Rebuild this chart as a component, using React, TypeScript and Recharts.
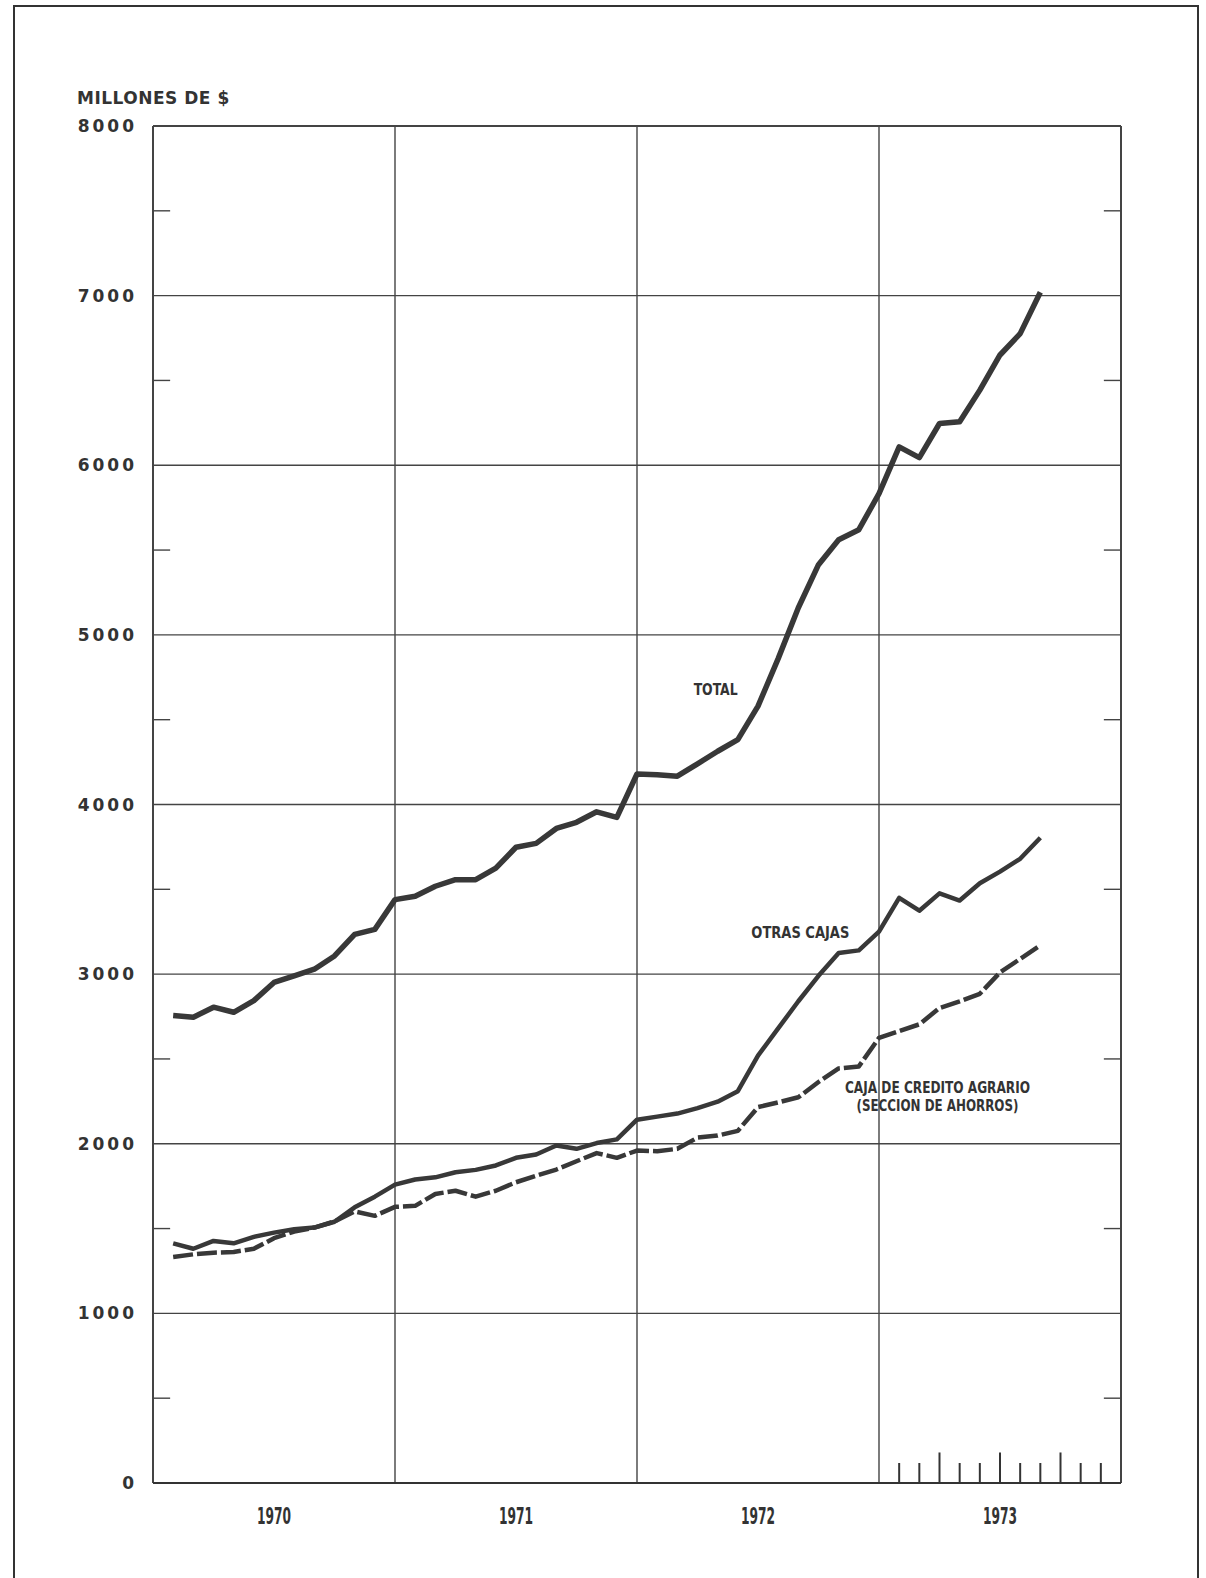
import React from 'react';
import { ComposedChart, Line, XAxis, YAxis, CartesianGrid, ReferenceLine, ReferenceDot } from 'recharts';

// month index (end of month), Jan 1970 = 1 ... Aug 1973 = 44
const months = [
  1, 2, 3, 4, 5, 6, 7, 8, 9, 10, 11, 12,
  13, 14, 15, 16, 17, 18, 19, 20, 21, 22, 23, 24,
  25, 26, 27, 28, 29, 30, 31, 32, 33, 34, 35, 36,
  37, 38, 39, 40, 41, 42, 43, 44,
];

const total = [
  2756, 2746, 2805, 2775, 2844, 2951, 2990, 3029, 3107, 3234, 3264, 3439,
  3459, 3518, 3557, 3557, 3625, 3748, 3771, 3859, 3895, 3957, 3924, 4180,
  4176, 4167, 4240, 4314, 4382, 4580, 4860, 5160, 5414, 5561, 5620, 5833,
  6108, 6045, 6246, 6256, 6443, 6650, 6776, 7020,
];

const otrasCajas = [
  1413, 1381, 1427, 1413, 1451, 1476, 1496, 1506, 1540, 1625, 1688, 1759,
  1789, 1802, 1832, 1846, 1872, 1917, 1937, 1990, 1970, 2004, 2026, 2142,
  2160, 2178, 2210, 2248, 2310, 2520, 2680, 2840, 2990, 3124, 3140, 3250,
  3450, 3374, 3476, 3434, 3536, 3604, 3680, 3804,
];

const cajaAgraria = [
  1332, 1348, 1358, 1362, 1381, 1443, 1482, 1506, 1542, 1601, 1575, 1628,
  1634, 1704, 1723, 1688, 1723, 1773, 1812, 1848, 1897, 1945, 1917, 1960,
  1956, 1970, 2036, 2048, 2076, 2216, 2244, 2274, 2364, 2444, 2456, 2624,
  2664, 2704, 2800, 2840, 2884, 3010, 3090, 3170,
];

const yearTicks = [6, 18, 30, 42];
const yearLabels = ['1970', '1971', '1972', '1973'];
const yearBounds = [0, 12, 24, 36, 48];
const valueTicks = [0, 1000, 2000, 3000, 4000, 5000, 6000, 7000, 8000];
const halfTicks = [500, 1500, 2500, 3500, 4500, 5500, 6500, 7500];
const months1973 = [37, 38, 39, 40, 41, 42, 43, 44, 45, 46, 47];
const quarters1973 = [39, 42, 45];

const data = months.map((m, i) => ({
  m,
  total: total[i],
  otras: otrasCajas[i],
  caja: cajaAgraria[i],
}));

const INK = '#333';
const GRID = '#444';
const NARROW = "'Liberation Sans Narrow', 'DejaVu Sans Condensed', 'Arial Narrow', sans-serif";
const WIDE = "'DejaVu Sans', Verdana, sans-serif";
const X_MIN = 0;
const X_MAX = 48;
const HALF_TICK_LEN = 0.85; // in months

function ValueTick({ x, y, payload }: any) {
  return (
    <text x={x} y={y} textAnchor="end" dominantBaseline="central" fontFamily={WIDE}
      fontSize={17} fontWeight="bold" letterSpacing={3} fill={INK}>
      {payload.value}
    </text>
  );
}

function YearTick({ x, y, payload }: any) {
  const label = yearLabels[yearTicks.indexOf(payload.value)];
  return (
    <text x={x} y={y + 31} textAnchor="middle" dominantBaseline="central" fontFamily={NARROW}
      fontSize={23} fontWeight="bold" fill={INK} textLength={34} lengthAdjust="spacingAndGlyphs">
      {label}
    </text>
  );
}

// text annotation drawn at a ReferenceDot
function annotation(lines: string[], widths: number[]) {
  return (props: any) => {
    const vb = props.viewBox || {};
    const cx = (vb.x || 0) + (vb.width || 0) / 2;
    const cy = (vb.y || 0) + (vb.height || 0) / 2;
    const lh = 18;
    const y0 = cy - ((lines.length - 1) * lh) / 2;
    return (
      <g>
        {lines.map((t, i) => (
          <text key={i} x={cx} y={y0 + i * lh} textAnchor="middle" dominantBaseline="central"
            fontFamily={NARROW} fontSize={16} fontWeight="bold" fill={INK}
            textLength={widths[i]} lengthAdjust="spacingAndGlyphs">
            {t}
          </text>
        ))}
      </g>
    );
  };
}

export default function App() {
  return (
    <div style={{ position: 'relative', width: 1190, height: 1560 }}>
      <div style={{
        position: 'absolute', left: 69, top: 80, fontFamily: WIDE, fontSize: 17, fontWeight: 'bold',
        letterSpacing: 0.5, color: INK, whiteSpace: 'nowrap',
      }}>
        MILLONES DE $
      </div>
      <ComposedChart width={1190} height={1560} data={data}
        margin={{ top: 118, right: 77, bottom: 25, left: 0 }}>
        <CartesianGrid yAxisId="v" vertical={false} stroke={GRID} strokeWidth={1.4} />
        <XAxis dataKey="m" type="number" domain={[X_MIN, X_MAX]} ticks={yearTicks} interval={0}
          tick={<YearTick />} tickLine={false} tickSize={0} height={60}
          axisLine={{ stroke: INK, strokeWidth: 2 }} />
        <YAxis yAxisId="v" type="number" domain={[0, 8000]} ticks={valueTicks} interval={0}
          width={145} tickSize={0} tickMargin={16} tickLine={false} axisLine={false}
          tick={<ValueTick />} />

        {yearBounds.map((b) => (
          <ReferenceLine key={'yb' + b} yAxisId="v" x={b} stroke={GRID}
            strokeWidth={b === X_MIN || b === X_MAX ? 2 : 1.4} />
        ))}
        <ReferenceLine yAxisId="v" y={8000} stroke={GRID} strokeWidth={2} />

        {halfTicks.map((h) => (
          <ReferenceLine key={'hl' + h} yAxisId="v"
            segment={[{ x: X_MIN, y: h }, { x: X_MIN + HALF_TICK_LEN, y: h }]}
            stroke={GRID} strokeWidth={1.4} />
        ))}
        {halfTicks.map((h) => (
          <ReferenceLine key={'hr' + h} yAxisId="v"
            segment={[{ x: X_MAX - HALF_TICK_LEN, y: h }, { x: X_MAX, y: h }]}
            stroke={GRID} strokeWidth={1.4} />
        ))}

        {months1973.map((mm) => (
          <ReferenceLine key={'t' + mm} yAxisId="v"
            segment={[{ x: mm, y: 0 }, { x: mm, y: quarters1973.includes(mm) ? 180 : 118 }]}
            stroke={INK} strokeWidth={2} />
        ))}

        <Line yAxisId="v" type="linear" dataKey="total" stroke="#383838" strokeWidth={5.5}
          strokeLinejoin="round" dot={false} activeDot={false} isAnimationActive={false} />
        <Line yAxisId="v" type="linear" dataKey="otras" stroke="#383838" strokeWidth={4.5}
          strokeLinejoin="round" dot={false} activeDot={false} isAnimationActive={false} />
        <Line yAxisId="v" type="linear" dataKey="caja" stroke="#383838" strokeWidth={4.5}
          strokeDasharray="20 4" strokeLinejoin="round" dot={false} activeDot={false}
          isAnimationActive={false} />

        <ReferenceDot yAxisId="v" x={27.9} y={4676} r={1} fill="none" stroke="none"
          label={annotation(['TOTAL'], [44])} />
        <ReferenceDot yAxisId="v" x={32.1} y={3243} r={1} fill="none" stroke="none"
          label={annotation(['OTRAS  CAJAS'], [98])} />
        <ReferenceDot yAxisId="v" x={38.9} y={2276} r={1} fill="none" stroke="none"
          label={annotation(['CAJA DE CREDITO AGRARIO', '(SECCION DE AHORROS)'], [185, 162])} />
      </ComposedChart>
      {/* page frame, fixed to the viewport so it never adds scroll overflow */}
      <div style={{
        position: 'fixed', left: 13, top: 5, width: 1186, height: 1600, boxSizing: 'border-box',
        borderLeft: `2px solid ${INK}`, borderRight: `2px solid ${INK}`, borderTop: `2px solid ${INK}`,
        pointerEvents: 'none',
      }} />
    </div>
  );
}
